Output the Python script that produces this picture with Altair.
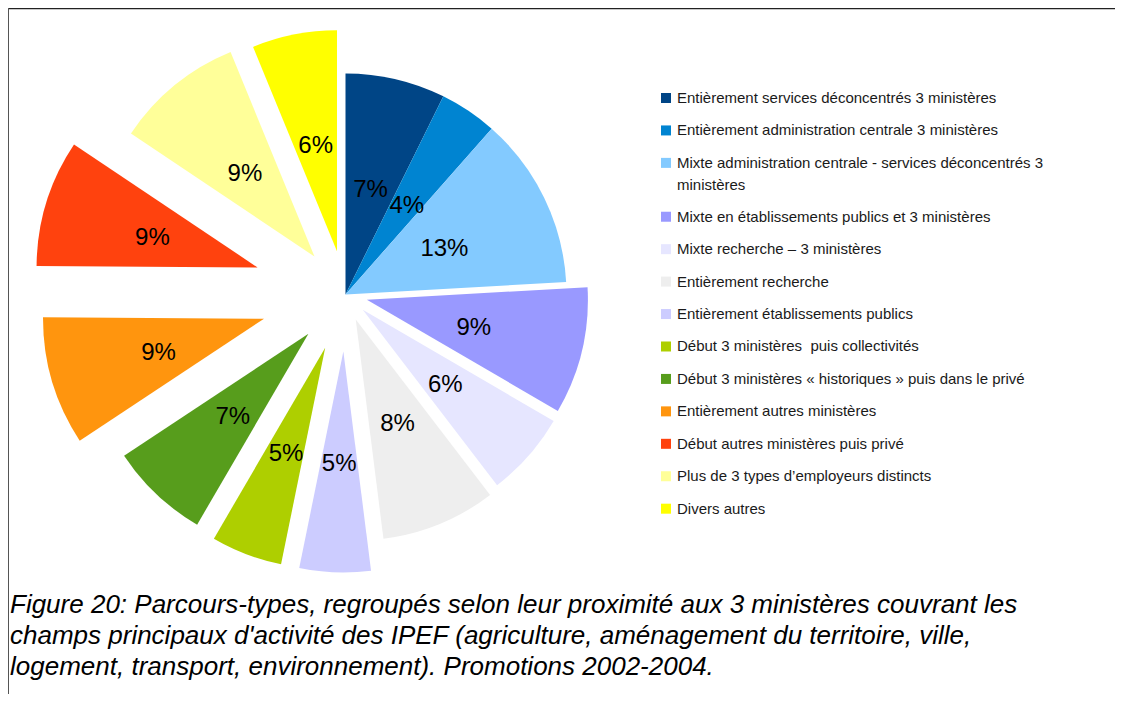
import altair as alt
import pandas as pd

# ---- data ----
categories = [
    "Entièrement services déconcentrés 3 ministères",
    "Entièrement administration centrale 3 ministères",
    "Mixte administration centrale - services déconcentrés 3 ministères",
    "Mixte en établissements publics et 3 ministères",
    "Mixte recherche – 3 ministères",
    "Entièrement recherche",
    "Entièrement établissements publics",
    "Début 3 ministères  puis collectivités",
    "Début 3 ministères « historiques » puis dans le privé",
    "Entièrement autres ministères",
    "Début autres ministères puis privé",
    "Plus de 3 types d’employeurs distincts",
    "Divers autres",
]
values = [7.3, 4.2, 12.6, 9.3, 6.2, 8.4, 5.2, 5.2, 7.3, 9.4, 9.3, 9.4, 6.2]
value_labels = ["7%", "4%", "13%", "9%", "6%", "8%", "5%", "5%", "7%", "9%", "9%", "9%", "6%"]
legend_text = [
    "Entièrement services déconcentrés 3 ministères",
    "Entièrement administration centrale 3 ministères",
    "Mixte administration centrale - services déconcentrés 3\nministères",
    "Mixte en établissements publics et 3 ministères",
    "Mixte recherche – 3 ministères",
    "Entièrement recherche",
    "Entièrement établissements publics",
    "Début 3 ministères\u00a0 puis collectivités",
    "Début 3 ministères « historiques » puis dans le privé",
    "Entièrement autres ministères",
    "Début autres ministères puis privé",
    "Plus de 3 types d’employeurs distincts",
    "Divers autres",
]
caption_lines = [
    "Figure 20: Parcours-types, regroupés selon leur proximité aux 3 ministères couvrant les",
    "champs principaux d'activité des IPEF (agriculture, aménagement du territoire, ville,",
    "logement, transport, environnement). Promotions 2002-2004.",
]

# ---- styles / layout ----
colors = ["#004586", "#0084d1", "#83caff", "#9999ff", "#e6e6ff", "#eeeeee", "#ccccff",
          "#aecf00", "#579d1c", "#ff950e", "#ff420e", "#ffff99", "#ffff00"]
explode_px = [0, 0, 0, 22, 23, 27, 57, 57, 54, 85, 92, 49, 44]

W, H = 1107, 686
CX, CY, R = 337.5, 286.5, 221
LABEL_R = 110
FONT = "Liberation Sans"

df = pd.DataFrame({"i": list(range(len(categories))), "cat": categories,
                   "v": values, "lab": value_labels, "ex": explode_px})

color_scale = alt.Scale(domain=categories, range=colors)

base = (
    alt.Chart(df)
    .transform_joinaggregate(total="sum(v)")
    .transform_window(cum="sum(v)", sort=[alt.SortField("i")], frame=[None, 0])
    .transform_calculate(
        t0="(datum.cum - datum.v) / datum.total * 2 * PI",
        t1="datum.cum / datum.total * 2 * PI",
    )
    .transform_calculate(mid="(datum.t0 + datum.t1) / 2")
    .transform_calculate(
        ox=f"{CX} + datum.ex * sin(datum.mid)",
        oy=f"{CY} - datum.ex * cos(datum.mid)",
    )
    .transform_calculate(
        lx=f"datum.ox + {LABEL_R} * sin(datum.mid)",
        ly=f"datum.oy - {LABEL_R} * cos(datum.mid)",
    )
)

pie = base.mark_arc(outerRadius=R, innerRadius=0).encode(
    theta=alt.Theta("t0:Q", scale=None),
    theta2="t1:Q",
    x=alt.X("ox:Q", scale=None, axis=None),
    y=alt.Y("oy:Q", scale=None, axis=None),
    color=alt.Color("cat:N", scale=color_scale, legend=None),
)

pie_labels = base.mark_text(font=FONT, fontSize=24, color="#000000",
                            align="center", baseline="middle", dy=3).encode(
    x=alt.X("lx:Q", scale=None, axis=None),
    y=alt.Y("ly:Q", scale=None, axis=None),
    text="lab:N",
)

# legend (built from the same category list and colour scale)
pos = []
p = 0.0
for t in legend_text:
    pos.append(p)
    p += 1 + 0.66 * t.count("\n")
leg_df = pd.DataFrame({"cat": categories, "txt": legend_text, "pos": pos})
leg_y = alt.Y("pos:Q", axis=None,
              scale=alt.Scale(domain=[0, pos[-1]], range=[90, 90 + pos[-1] * 32.44],
                              nice=False, zero=False))

leg_sq = alt.Chart(leg_df).mark_square(size=100, opacity=1, filled=True).encode(
    x=alt.value(658),
    y=leg_y,
    color=alt.Color("cat:N", scale=color_scale, legend=None),
)
leg_txt = alt.Chart(leg_df).mark_text(font=FONT, fontSize=15, color="#1a1a1a",
                                      align="left", baseline="alphabetic", dy=5,
                                      lineBreak="\n", lineHeight=22).encode(
    x=alt.value(669),
    y=leg_y,
    text="txt:N",
)

caption = alt.Chart(pd.DataFrame({"t": ["\n".join(caption_lines)]})).mark_text(
    font=FONT, fontSize=26, fontStyle="italic", color="#000000",
    align="left", baseline="alphabetic", lineBreak="\n", lineHeight=31,
).encode(x=alt.value(2), y=alt.value(605), text="t:N")

frame_df = pd.DataFrame({"a": [0]})
top_rule = alt.Chart(frame_df).mark_rule(color="#222222", strokeWidth=1.2).encode(
    x=alt.value(0), x2=alt.value(W), y=alt.value(0.6))
left_rule = alt.Chart(frame_df).mark_rule(color="#555555", strokeWidth=1).encode(
    x=alt.value(0.5), y=alt.value(0), y2=alt.value(H))

chart = (
    alt.layer(pie, pie_labels, leg_sq, leg_txt, caption, top_rule, left_rule)
    .resolve_scale(x="independent", y="independent")
    .properties(width=W, height=H, autosize=alt.AutoSizeParams(type="none"),
                padding=0, background="white")
    .configure_view(stroke=None)
)

chart.save("out.html", embed_options={"renderer": "svg", "actions": False})
